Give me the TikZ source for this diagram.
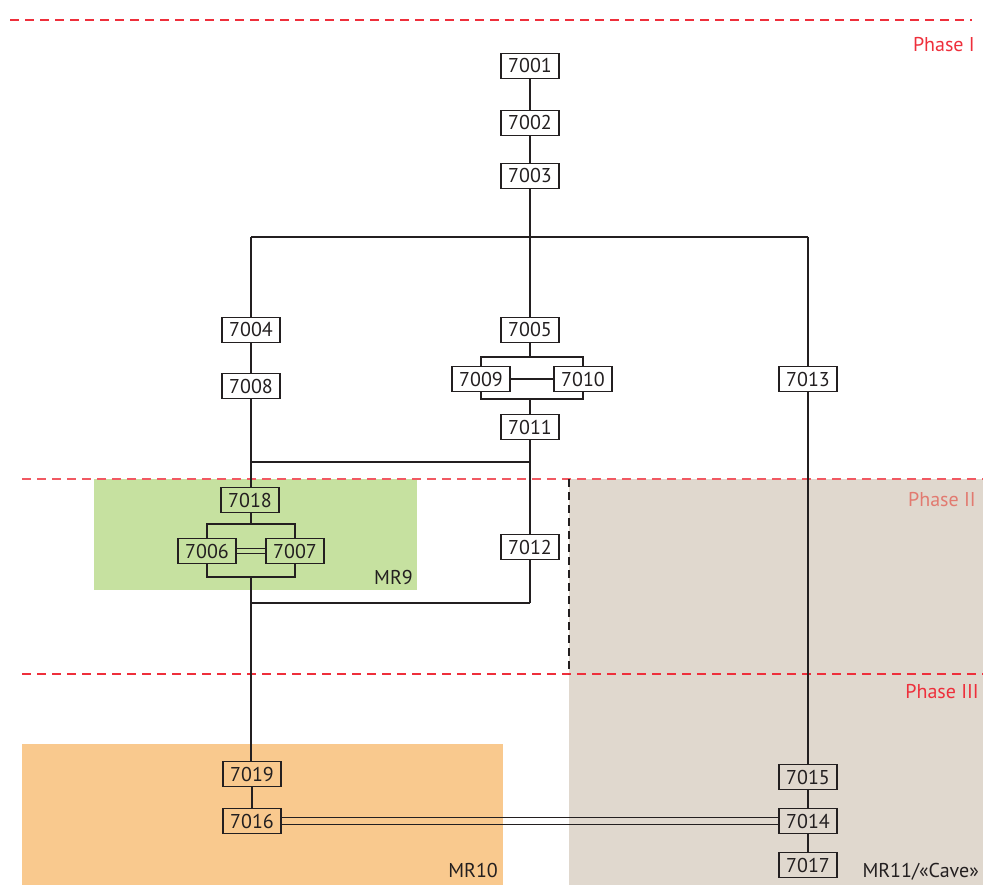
\documentclass[tikz,border=0pt]{standalone}
\usepackage{fontspec}
\setmainfont{PT Sans}
\definecolor{ink}{HTML}{231F20}
\definecolor{phred}{HTML}{EE2F3B}
\definecolor{phlight}{HTML}{E27A70}
\definecolor{mrgreen}{HTML}{C6E1A0}
\definecolor{mrorange}{HTML}{F9C98E}
\definecolor{mrgrey}{HTML}{E0D8CE}
\tikzset{
  box/.style={draw=ink, line width=1.5pt, minimum width=58pt, minimum height=25pt, inner sep=0pt, font=\fontsize{20}{20}\selectfont, text=ink},
  conn/.style={draw=ink, line width=1.5pt},
  thinconn/.style={draw=ink, line width=1.3pt},
  phaseline/.style={draw=phred, line width=1.5pt, dash pattern=on 9pt off 6pt},
  lbl/.style={font=\fontsize{20}{20}\selectfont, inner sep=0pt},
}
\begin{document}
\begin{tikzpicture}[x=1pt,y=-1pt]
\useasboundingbox (0,0) rectangle (983,885);
% background regions
\fill[mrgreen] (94,479) rectangle (417,590);
\fill[mrorange] (22,744) rectangle (503,885);
\fill[mrgrey] (569,479) rectangle (983,885);
% phase lines
\coordinate (p1a) at (10,20); \coordinate (p1b) at (972,20);
\coordinate (p2a) at (22,479); \coordinate (p2b) at (983,479);
\coordinate (p3a) at (22,674); \coordinate (p3b) at (983,674);
\draw[phaseline] (p1a) -- (p1b);
\draw[phaseline, draw=phred!80] (p2a) -- (p2b);
\draw[phaseline] (p3a) -- (p3b);
\coordinate (gA) at (569,479); \coordinate (gB) at (569,674);
\draw[draw=ink, line width=1.5pt, dash pattern=on 8pt off 5pt] (gA) -- (gB);
\node[lbl, text=phred, anchor=east] (ph1) at (975,45) {Phase I};
\node[lbl, text=phlight, anchor=east] (ph2) at (976,500) {Phase II};
\node[lbl, text=phred, anchor=east] (ph3) at (979,692) {Phase III};
\node[lbl, text=ink, anchor=east] (mr9) at (413,577) {MR9};
\node[lbl, text=ink, anchor=east] (mr10) at (498,870) {MR10};
\node[lbl, text=ink, anchor=east] (mr11) at (979,872) {MR11/«Cave»};
% nodes
\node[box] (n7001) at (530,66) {7001};
\node[box] (n7002) at (530,123) {7002};
\node[box] (n7003) at (530,176) {7003};
\node[box] (n7004) at (251,330) {7004};
\node[box] (n7005) at (530,330) {7005};
\node[box] (n7009) at (481,379) {7009};
\node[box] (n7010) at (583,379) {7010};
\node[box] (n7013) at (808,379) {7013};
\node[box] (n7008) at (251,386) {7008};
\node[box] (n7011) at (530,427) {7011};
\node[box] (n7018) at (250,500) {7018};
\node[box] (n7006) at (207,551) {7006};
\node[box] (n7007) at (295,551) {7007};
\node[box] (n7012) at (530,547) {7012};
\node[box] (n7019) at (252,774) {7019};
\node[box] (n7016) at (252,821) {7016};
\node[box] (n7015) at (808,777) {7015};
\node[box] (n7014) at (808,821) {7014};
\node[box] (n7017) at (808,865) {7017};
% junctions
\coordinate (jA) at (530,237);
\coordinate (jL) at (251,237);
\coordinate (jR) at (808,237);
\coordinate (b1) at (530,357);
\coordinate (b2) at (530,399);
\coordinate (jB) at (251,462);
\coordinate (jC) at (530,462);
\coordinate (c1) at (251,524);
\coordinate (c2) at (251,577);
\coordinate (jD) at (251,603);
\coordinate (jE) at (530,603);
% connectors
\draw[conn] (n7001) -- (n7002);
\draw[conn] (n7002) -- (n7003);
\draw[conn] (n7003) -- (jA);
\draw[conn] (jL) -- (jR);
\draw[conn] (jL) -- (n7004);
\draw[conn] (jA) -- (n7005);
\draw[conn] (jR) -- (n7013);
\draw[conn] (n7004) -- (n7008);
\draw[conn] (n7005) -- (b1);
\draw[conn] (n7009.north) |- (b1) -| (n7010.north);
\draw[conn] (n7009) -- (n7010);
\draw[conn] (n7009.south) |- (b2) -| (n7010.south);
\draw[conn] (b2) -- (n7011);
\draw[conn] (n7008.south) -- (n7018.north -| n7008.south);
\draw[conn] (jB) -- (jC);
\draw[conn] (n7011) -- (n7012);
\draw[conn] (n7018.south -| c1) -- (c1);
\draw[conn] (n7006.north) |- (c1) -| (n7007.north);
\draw[thinconn, transform canvas={yshift=2.6pt}] (n7006) -- (n7007);
\draw[thinconn, transform canvas={yshift=-2.6pt}] (n7006) -- (n7007);
\draw[conn] (n7006.south) |- (c2) -| (n7007.south);
\draw[conn] (c2) -- (n7019.north -| c2);
\draw[conn] (n7012) -- (jE);
\draw[conn] (jD) -- (jE);
\draw[conn] (n7019) -- (n7016);
\draw[conn] (n7013) -- (n7015);
\draw[conn] (n7015) -- (n7014);
\draw[conn] (n7014) -- (n7017);
\draw[thinconn, transform canvas={yshift=3.8pt}] (n7016) -- (n7014);
\draw[thinconn, transform canvas={yshift=-3.8pt}] (n7016) -- (n7014);
\end{tikzpicture}
\end{document}
